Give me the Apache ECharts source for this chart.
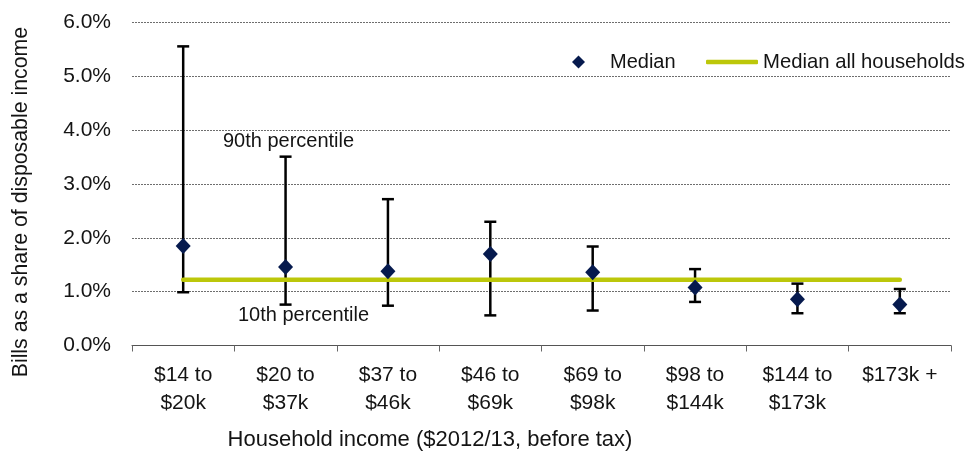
<!DOCTYPE html>
<html>
<head>
<meta charset="utf-8">
<style>
  html, body { margin: 0; padding: 0; background: #ffffff; }
  #chart { width: 970px; height: 452px; }
</style>
<script src="https://cdn.jsdelivr.net/npm/echarts@6/dist/echarts.min.js"></script>
</head>
<body>
<div id="chart"></div>
<script>
// Income bands (before tax, $2012/13)
const categories = [
  '$14 to\n$20k', '$20 to\n$37k', '$37 to\n$46k', '$46 to\n$69k',
  '$69 to\n$98k', '$98 to\n$144k', '$144 to\n$173k', '$173k +'
];
// Bills as a share of disposable income (%)
const medianShare = [1.85, 1.46, 1.38, 1.70, 1.36, 1.08, 0.86, 0.76];
const p90Share    = [5.56, 3.51, 2.72, 2.30, 1.84, 1.42, 1.15, 1.05];
const p10Share    = [0.99, 0.76, 0.74, 0.56, 0.65, 0.81, 0.60, 0.60];
// Median across all households, drawn as a flat reference line
const medianAllHouseholds = [1.22, 1.22, 1.22, 1.22, 1.22, 1.22, 1.22, 1.22];
// Value axis ticks
const yTicks = { min: 0, max: 6, step: 1 };

const FONT = "'Liberation Sans', Arial, sans-serif";
const TEXT = '#141414';
const NAVY = '#061a4e';
const LIME = '#bcc70a';

const chart = echarts.init(document.getElementById('chart'), null, { renderer: 'canvas' });

const rangeData = categories.map((c, i) => [i, p90Share[i], p10Share[i]]);

chart.setOption({
  animation: false,
  backgroundColor: '#ffffff',
  textStyle: { fontFamily: FONT, color: TEXT },
  grid: { left: 132, right: 19, top: 22.7, bottom: 106.5, containLabel: false, outerBoundsMode: 'none' },
  legend: [
    {
      data: [{ name: 'Median', icon: 'diamond' }],
      left: 572, top: 52, padding: 0,
      itemWidth: 13, itemHeight: 13,
      textStyle: { fontSize: 20, fontFamily: FONT, color: TEXT, padding: [0, 0, 0, 20] },
      selectedMode: false
    },
    {
      data: [{ name: 'Median all households', icon: 'roundRect' }],
      left: 706, top: 52, padding: 0,
      itemWidth: 52, itemHeight: 4.5,
      textStyle: { fontSize: 20.3, fontFamily: FONT, color: TEXT },
      selectedMode: false
    }
  ],
  xAxis: {
    type: 'category',
    data: categories,
    boundaryGap: true,
    name: 'Household income ($2012/13, before tax)',
    nameLocation: 'middle',
    nameGap: 83,
    nameTextStyle: { fontSize: 22, fontFamily: FONT, color: TEXT, padding: [0, 223, 0, 0] },
    axisLine: { show: true, lineStyle: { color: '#555555', width: 1 } },
    axisTick: { show: true, length: 6, lineStyle: { color: '#666666' } },
    axisLabel: { interval: 0, fontSize: 21, lineHeight: 28, margin: 16, color: TEXT, fontFamily: FONT },
    splitLine: { show: false }
  },
  yAxis: {
    type: 'value',
    min: yTicks.min, max: yTicks.max, interval: yTicks.step,
    name: 'Bills as a share of disposable income',
    nameLocation: 'middle',
    nameRotate: 90,
    nameGap: 100,
    nameTextStyle: { fontSize: 21.3, fontFamily: FONT, color: TEXT, padding: [0, 36, 0, 0] },
    axisLine: { show: false },
    axisTick: { show: false },
    axisLabel: {
      fontSize: 21, margin: 21, color: TEXT, fontFamily: FONT,
      formatter: v => v.toFixed(1) + '%'
    },
    splitLine: { show: true, lineStyle: { color: '#6e6e6e', type: [2, 1], width: 1 } }
  },
  series: [
    {
      name: 'Range',
      type: 'custom',
      z: 2,
      data: rangeData,
      encode: { x: 0, y: [1, 2] },
      renderItem: function (params, api) {
        const top = api.coord([api.value(0), api.value(1)]);
        const bot = api.coord([api.value(0), api.value(2)]);
        const hw = 6;
        const st = { stroke: '#000000', lineWidth: 2.5 };
        return {
          type: 'group',
          children: [
            { type: 'line', shape: { x1: top[0], y1: top[1], x2: bot[0], y2: bot[1] }, style: st },
            { type: 'line', shape: { x1: top[0] - hw, y1: top[1], x2: top[0] + hw, y2: top[1] }, style: st },
            { type: 'line', shape: { x1: bot[0] - hw, y1: bot[1], x2: bot[0] + hw, y2: bot[1] }, style: st }
          ]
        };
      }
    },
    {
      name: 'Median all households',
      type: 'line',
      z: 3,
      data: medianAllHouseholds,
      symbol: 'none',
      itemStyle: { color: LIME },
      lineStyle: { color: LIME, width: 4.5, cap: 'round' }
    },
    {
      name: 'Median',
      type: 'scatter',
      z: 4,
      data: medianShare,
      symbol: 'diamond',
      symbolSize: [15, 16],
      itemStyle: { color: NAVY, opacity: 1 }
    }
  ],
  graphic: [
    {
      type: 'text', z: 10,
      style: { text: '90th percentile', x: 288.5, y: 141, textAlign: 'center', textVerticalAlign: 'middle',
               fontSize: 20, fontFamily: FONT, fill: TEXT }
    },
    {
      type: 'text', z: 10,
      style: { text: '10th percentile', x: 303.5, y: 315, textAlign: 'center', textVerticalAlign: 'middle',
               fontSize: 20, fontFamily: FONT, fill: TEXT }
    }
  ]
});
</script>
</body>
</html>
